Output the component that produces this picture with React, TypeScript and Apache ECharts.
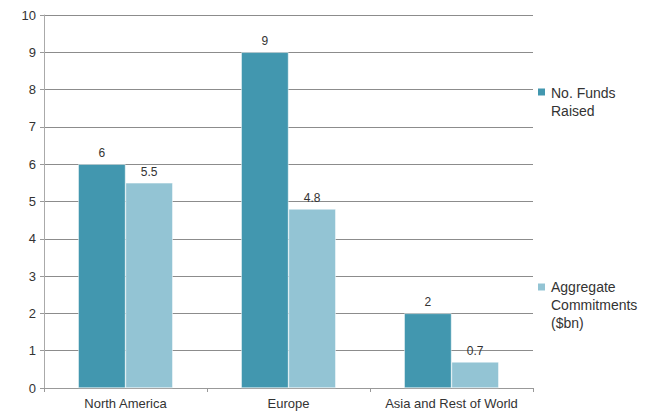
import React, { useEffect, useRef } from "react";
import * as echarts from "echarts";

const categories = ["North America", "Europe", "Asia and Rest of World"];
const fundsRaised = [6, 9, 2];
const aggregateCommitments = [5.5, 4.8, 0.7];
const seriesNames = ["No. Funds\nRaised", "Aggregate\nCommitments\n($bn)"];

const FONT = "Liberation Sans";

export default function App() {
  const ref = useRef<HTMLDivElement>(null);
  useEffect(() => {
    if (!ref.current) return;
    const chart = echarts.init(ref.current, null, { renderer: "svg" });
    const icon1 = "path://M0,2L10,2L10,12L0,12Z M0,0L0.01,0L0.01,0.01Z M0,36L0.01,36L0.01,36.01Z";
    const icon2 = "path://M0,2L10,2L10,12L0,12Z M0,0L0.01,0L0.01,0.01Z M0,54L0.01,54L0.01,54.01Z";
    const legendText = { fontFamily: FONT, fontSize: 14, color: "#333", lineHeight: 18 };
    chart.setOption({
      animation: false,
      textStyle: { fontFamily: FONT },
      grid: { left: 44, right: 125, top: 15, bottom: 23, containLabel: false },
      legend: [
        {
          data: [{ name: seriesNames[0], icon: icon1 }],
          orient: "vertical",
          left: 536,
          top: 84,
          padding: 0,
          itemWidth: 9,
          itemHeight: 36,
          textStyle: legendText,
          selectedMode: false,
        },
        {
          data: [{ name: seriesNames[1], icon: icon2 }],
          orient: "vertical",
          left: 536,
          top: 278,
          padding: 0,
          itemWidth: 9,
          itemHeight: 54,
          textStyle: legendText,
          selectedMode: false,
        },
      ],
      xAxis: {
        type: "category",
        data: categories,
        axisLine: { lineStyle: { color: "#999" } },
        axisTick: { show: true, length: 4, lineStyle: { color: "#999" } },
        axisLabel: { color: "#333", fontSize: 13, margin: 9, interval: 0, fontFamily: FONT },
      },
      yAxis: {
        type: "value",
        min: 0,
        max: 10,
        interval: 1,
        axisLine: { show: true, lineStyle: { color: "#aaa" } },
        axisTick: { show: true, length: 4, lineStyle: { color: "#999" } },
        axisLabel: { color: "#333", fontSize: 13, margin: 8, fontFamily: FONT },
        splitLine: { lineStyle: { color: "#8c8c8c" } },
      },
      series: [
        {
          name: seriesNames[0],
          type: "bar",
          data: fundsRaised,
          barGap: "0%",
          barCategoryGap: "42%",
          itemStyle: { color: "#4297AF", borderColor: "#fff", borderWidth: 0.5 },
          label: { show: true, position: "top", color: "#333", fontSize: 12, distance: 5, fontFamily: FONT },
        },
        {
          name: seriesNames[1],
          type: "bar",
          data: aggregateCommitments,
          barGap: "0%",
          barCategoryGap: "42%",
          itemStyle: { color: "#93C4D4", borderColor: "#fff", borderWidth: 0.5 },
          label: { show: true, position: "top", color: "#333", fontSize: 12, distance: 5, fontFamily: FONT },
        },
      ],
    });
    return () => chart.dispose();
  }, []);
  return <div ref={ref} style={{ width: 658, height: 411, position: "absolute", left: 0, top: 0 }} />;
}
